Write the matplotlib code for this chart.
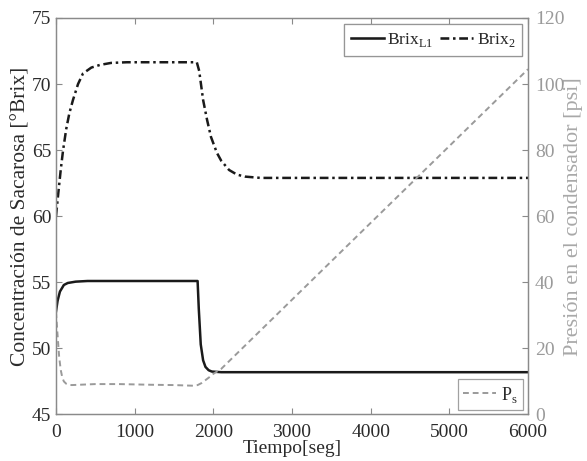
import matplotlib
matplotlib.use("Agg")
import matplotlib.pyplot as plt

plt.rcParams['font.family'] = ['Liberation Serif', 'DejaVu Serif']
plt.rcParams['mathtext.fontset'] = 'custom'
plt.rcParams['mathtext.rm'] = 'Liberation Serif'

# Brix del licor L1 (linea continua)
t_l1 = [0, 20, 50, 100, 150, 250, 400, 1000, 1800, 1815, 1840, 1870, 1900,
        1940, 1980, 2100, 3000, 6000]
brix_l1 = [52.8, 53.6, 54.3, 54.8, 54.95, 55.05, 55.1, 55.1, 55.1, 53.0,
           50.3, 49.1, 48.6, 48.35, 48.25, 48.2, 48.2, 48.2]

# Brix de la segunda etapa (linea punto-raya)
t_b2 = [0, 30, 60, 90, 130, 170, 216, 280, 343, 450, 560, 700, 900, 1790,
        1820, 1870, 1920, 1970, 2045, 2100, 2200, 2300, 2400, 2600, 6000]
brix_2 = [60.0, 61.8, 63.5, 65.0, 66.6, 67.8, 68.8, 70.0, 70.8, 71.25,
          71.45, 71.6, 71.65, 71.65, 71.0, 68.8, 67.3, 66.0, 64.8, 64.2,
          63.5, 63.15, 63.0, 62.9, 62.9]

# Presion en el condensador [psi]
t_ps = [0, 20, 40, 60, 80, 100, 130, 160, 200, 300, 500, 800, 1200, 1500,
        1750, 1800, 1850, 1900, 1950, 2000, 2100, 6000]
p_s = [31.0, 24.0, 17.5, 13.5, 11.2, 10.0, 9.3, 9.0, 8.9, 9.0, 9.2, 9.2,
       9.0, 8.9, 8.7, 8.9, 9.5, 10.4, 11.3, 12.3, 13.8, 104.5]

xticks = [0, 1000, 2000, 3000, 4000, 5000, 6000]
yticks_l = [45, 50, 55, 60, 65, 70, 75]
yticks_r = [0, 20, 40, 60, 80, 100, 120]

fig = plt.figure(figsize=(5.87, 4.61), dpi=100)
ax = fig.add_axes([0.0954, 0.1009, 0.8041, 0.8601])
ax2 = ax.twinx()

dark = '#2b2b2b'
grey = '#9a9a9a'
edge = '#8a8a8a'

l1, = ax.plot(t_l1, brix_l1, color='#1a1a1a', lw=1.8, label=r'Brix$_{\mathregular{L1}}$')
l2, = ax.plot(t_b2, brix_2, color='#1a1a1a', lw=1.8,
              linestyle=(0, (3.5, 1.5, 1, 1.5)), label=r'Brix$_{\mathregular{2}}$')
l3, = ax2.plot(t_ps, p_s, color=grey, lw=1.4, linestyle=(0, (3, 2)),
               label=r'P$_{\mathregular{s}}$')

ax.set_xlim(0, 6000)
ax.set_ylim(45, 75)
ax2.set_ylim(0, 120)
ax.set_xticks(xticks)
ax.set_yticks(yticks_l)
ax2.set_yticks(yticks_r)

for a in (ax, ax2):
    for s in a.spines.values():
        s.set_color(edge)
        s.set_linewidth(0.9)

ax.tick_params(direction='in', length=4, width=0.8, color=edge, labelsize=14,
               labelcolor=dark, top=True)
ax2.tick_params(direction='in', length=4, width=0.8, color=edge, labelsize=14,
                labelcolor=grey, pad=5)
ax.tick_params(axis='x', pad=7)

ax.set_xlabel('Tiempo[seg]', fontsize=14, color=dark, labelpad=-1)
ax.set_ylabel('Concentración de Sacarosa [°Brix]', fontsize=15.5, color=dark, labelpad=1)
ax2.set_ylabel('Presión en el condensador [psi]', fontsize=16, color='#a8a8a8', labelpad=0)

leg1 = ax.legend(handles=[l1, l2], loc='upper right', ncol=2, fontsize=12.5,
                 frameon=True, fancybox=False, handlelength=1.9,
                 columnspacing=0.4, handletextpad=0.2, borderaxespad=0.35,
                 borderpad=0.4)
leg1.get_frame().set_edgecolor(edge)
leg1.get_frame().set_linewidth(0.9)
for txt in leg1.get_texts():
    txt.set_color(dark)
ax.add_artist(leg1)

leg2 = ax2.legend(handles=[l3], loc='lower right', fontsize=13, frameon=True,
                  fancybox=False, handlelength=1.8, handletextpad=0.3,
                  borderaxespad=0.25, borderpad=0.3)
leg2.get_frame().set_edgecolor(edge)
leg2.get_frame().set_linewidth(0.9)
for txt in leg2.get_texts():
    txt.set_color(dark)

fig.savefig('out.png', dpi=100)
